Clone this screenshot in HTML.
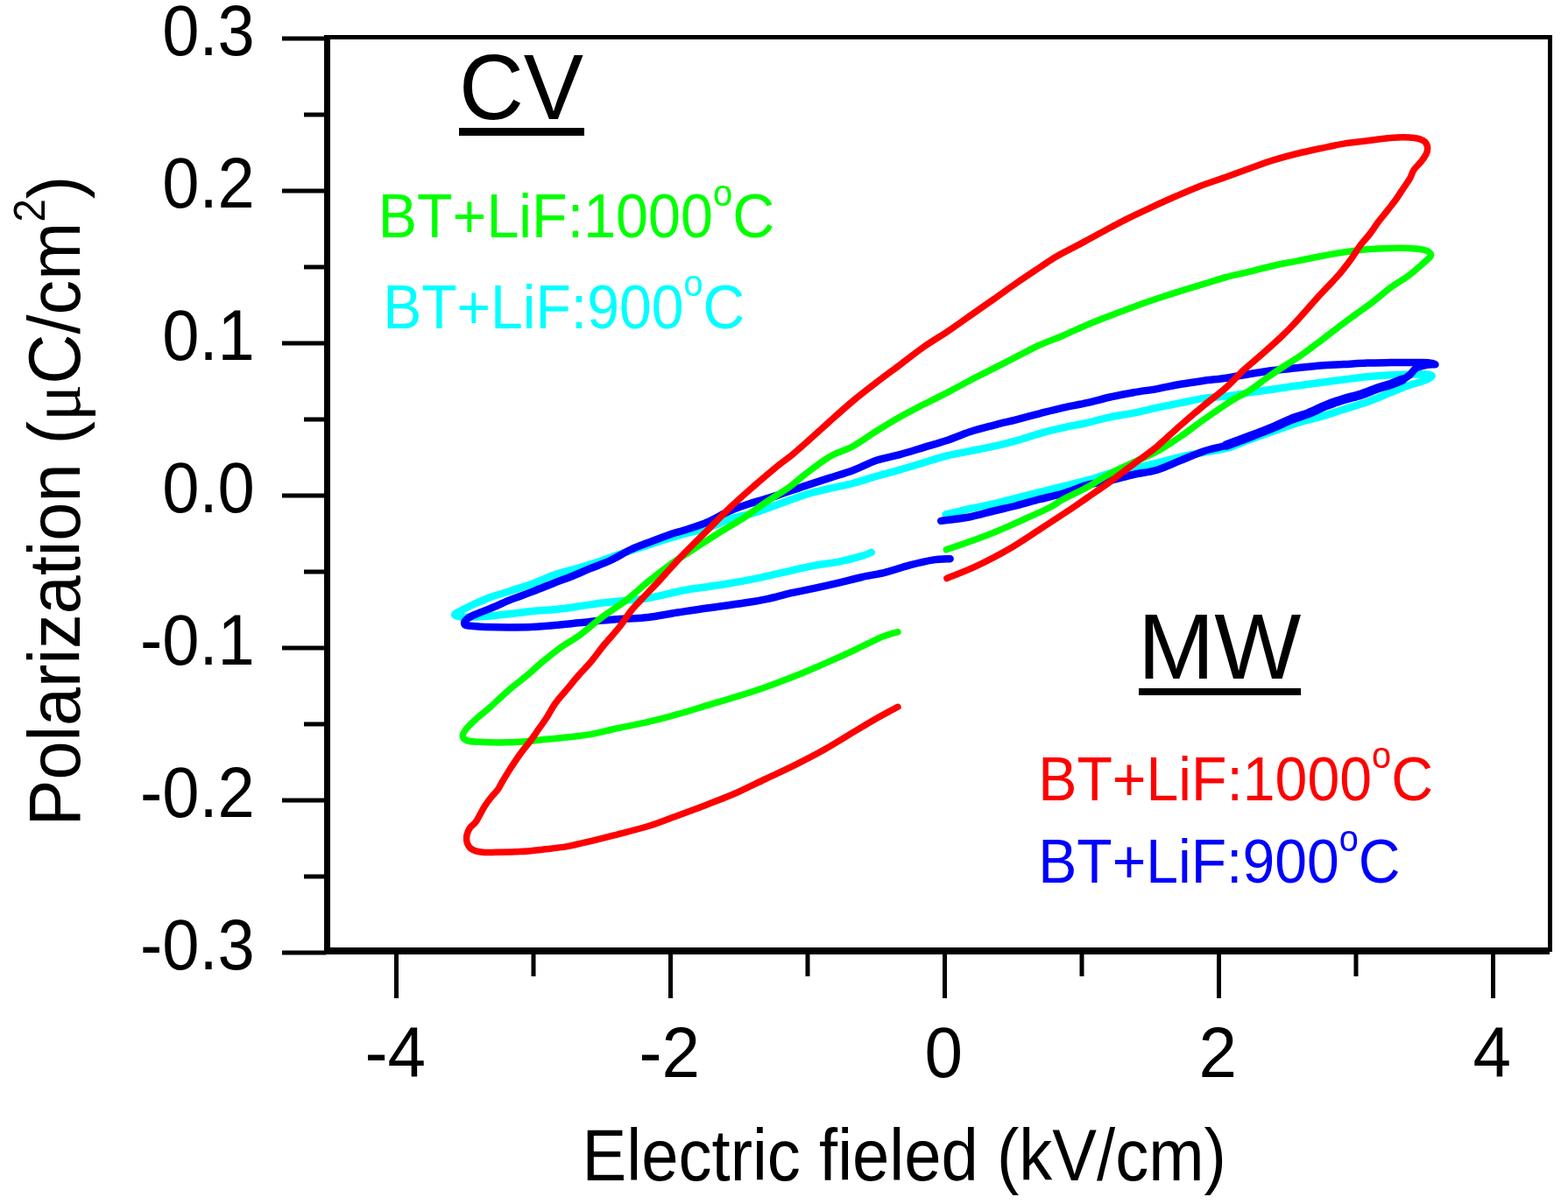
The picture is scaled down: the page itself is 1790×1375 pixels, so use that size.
<!DOCTYPE html>
<html><head><meta charset="utf-8"><title>P-E hysteresis</title>
<style>html,body{margin:0;padding:0;background:#fff;overflow:hidden;width:1790px;height:1375px;}svg{display:block;}text{font-family:"Liberation Sans", Arial, sans-serif;}</style></head><body>
<svg width="1790" height="1375" viewBox="0 0 1790 1375">
<rect x="0" y="0" width="1790" height="1375" fill="#fff"/>
<g fill="none" stroke-linejoin="round" stroke-linecap="round">
<path d="M1079.6,587.5 C1084.3,586.4 1098.5,582.8 1107.7,580.8 C1116.9,578.8 1125.8,577.4 1134.5,575.4 C1143.2,573.4 1151.3,571.0 1160.0,568.8 C1168.7,566.6 1177.9,564.3 1186.8,562.1 C1195.7,559.9 1204.6,557.6 1213.6,555.4 C1222.5,553.2 1231.5,551.2 1240.5,548.7 C1249.5,546.2 1258.4,542.9 1267.3,540.7 C1276.2,538.5 1285.2,537.3 1294.1,535.3 C1303.0,533.3 1312.0,530.8 1320.9,528.6 C1329.8,526.4 1338.8,523.9 1347.7,521.9 C1356.6,519.9 1365.8,518.1 1374.5,516.5 C1383.2,514.9 1391.3,514.4 1400.0,512.0 C1408.7,509.6 1417.9,505.1 1426.8,501.9 C1435.7,498.6 1444.6,495.6 1453.6,492.5 C1462.5,489.4 1471.5,485.9 1480.5,483.1 C1489.5,480.4 1498.4,478.6 1507.3,476.0 C1516.2,473.4 1525.2,470.3 1534.1,467.5 C1543.0,464.7 1552.0,462.2 1560.9,459.0 C1569.8,455.8 1579.9,451.4 1587.7,448.3 C1595.5,445.2 1601.5,442.4 1607.8,440.2 C1614.1,438.0 1620.8,436.7 1625.3,434.9 C1629.8,433.1 1634.1,430.7 1634.6,429.5 C1635.0,428.3 1631.3,427.8 1628.0,427.5 C1624.7,427.2 1621.2,427.4 1614.5,427.5 C1607.8,427.6 1596.6,427.8 1587.7,428.2 C1578.8,428.6 1569.8,429.3 1560.9,430.2 C1552.0,431.1 1543.0,432.4 1534.1,433.5 C1525.2,434.6 1516.2,435.8 1507.3,437.0 C1498.4,438.2 1489.5,439.2 1480.5,440.5 C1471.5,441.8 1462.5,443.2 1453.6,444.5 C1444.6,445.8 1435.7,447.1 1426.8,448.4 C1417.9,449.7 1408.7,451.4 1400.0,452.5 C1391.3,453.6 1383.2,453.6 1374.5,454.9 C1365.8,456.2 1356.6,458.4 1347.7,460.2 C1338.8,462.0 1329.8,463.7 1320.9,465.6 C1312.0,467.5 1303.0,469.8 1294.1,471.6 C1285.2,473.4 1276.2,474.4 1267.3,476.3 C1258.4,478.2 1249.5,481.0 1240.5,483.0 C1231.5,485.0 1222.5,486.4 1213.6,488.4 C1204.6,490.4 1195.7,492.6 1186.8,495.1 C1177.9,497.6 1168.7,501.0 1160.0,503.4 C1151.3,505.8 1143.2,507.8 1134.5,509.7 C1125.8,511.6 1116.6,513.3 1107.7,515.1 C1098.8,516.9 1089.8,518.3 1080.9,520.5 C1072.0,522.7 1063.0,525.8 1054.1,528.5 C1045.2,531.2 1036.2,533.9 1027.3,536.5 C1018.4,539.1 1009.5,541.3 1000.5,543.9 C991.5,546.5 982.6,549.6 973.6,552.0 C964.6,554.4 955.7,555.9 946.8,558.0 C937.9,560.1 929.9,561.7 920.0,564.7 C910.1,567.8 897.6,572.8 887.7,576.3 C877.9,579.8 869.8,583.0 860.9,585.7 C852.0,588.4 843.0,589.5 834.1,592.4 C825.2,595.3 816.2,600.2 807.3,603.1 C798.4,606.0 789.5,607.3 780.5,609.8 C771.5,612.3 760.4,615.8 753.6,617.9 C746.9,620.0 746.5,620.4 740.0,622.5 C733.5,624.6 723.2,627.6 714.5,630.5 C705.8,633.4 696.6,637.0 687.7,640.0 C678.8,643.0 669.8,645.8 660.9,648.5 C652.0,651.2 642.9,653.0 634.1,656.0 C625.3,659.0 616.4,663.4 608.0,666.5 C599.6,669.6 592.0,671.9 584.0,674.5 C576.0,677.1 567.3,679.3 560.0,682.0 C552.7,684.7 545.7,687.9 540.0,690.5 C534.3,693.1 529.5,695.6 526.0,697.5 C522.5,699.4 518.9,700.8 519.0,702.0 C519.1,703.2 521.0,704.2 526.8,704.5 C532.6,704.8 544.6,704.5 553.6,704.0 C562.6,703.5 571.5,702.2 580.5,701.2 C589.5,700.2 598.4,698.8 607.3,697.9 C616.2,697.0 625.2,696.8 634.1,695.9 C643.0,695.0 652.0,693.7 660.9,692.5 C669.8,691.3 678.8,689.6 687.7,688.5 C696.6,687.4 705.8,686.7 714.5,685.8 C723.2,684.9 729.0,684.9 740.0,683.0 C751.0,681.1 769.3,676.3 780.5,674.2 C791.7,672.1 798.4,671.6 807.3,670.2 C816.2,668.8 825.2,667.5 834.1,666.0 C843.0,664.5 853.8,662.6 860.9,661.2 C868.0,659.8 869.7,659.3 876.8,657.7 C883.9,656.1 894.6,653.6 903.6,651.6 C912.6,649.6 921.5,647.3 930.5,645.6 C939.5,643.9 948.4,643.4 957.3,641.6 C966.2,639.8 977.9,636.7 984.1,634.9 C990.4,633.1 993.0,631.5 994.8,630.8" stroke="#00ffff" stroke-width="8.5"/>
<path d="M1074.2,594.9 C1079.8,594.1 1097.7,592.1 1107.7,590.2 C1117.8,588.3 1125.8,585.6 1134.5,583.5 C1143.2,581.4 1151.3,579.7 1160.0,577.5 C1168.7,575.3 1177.9,572.5 1186.8,570.2 C1195.7,567.9 1204.6,566.2 1213.6,563.5 C1222.5,560.8 1231.5,556.6 1240.5,554.1 C1249.5,551.6 1258.4,550.7 1267.3,548.7 C1276.2,546.7 1285.2,544.0 1294.1,542.0 C1303.0,540.0 1312.0,539.4 1320.9,536.7 C1329.8,534.0 1338.8,529.5 1347.7,525.9 C1356.6,522.3 1365.8,518.1 1374.5,515.2 C1383.2,512.3 1391.3,511.3 1400.0,508.5 C1408.7,505.7 1417.9,501.9 1426.8,498.5 C1435.7,495.1 1445.8,491.2 1453.6,488.0 C1461.4,484.8 1467.0,481.7 1473.7,479.0 C1480.4,476.3 1487.2,474.7 1493.9,472.0 C1500.6,469.3 1507.3,465.7 1514.0,463.0 C1520.7,460.3 1527.4,458.1 1534.1,456.0 C1540.8,453.9 1547.5,452.7 1554.2,450.5 C1560.9,448.3 1568.7,444.8 1574.3,442.9 C1579.9,441.0 1583.2,440.5 1587.7,438.9 C1592.2,437.3 1597.5,435.3 1601.1,433.5 C1604.7,431.7 1606.5,430.4 1609.2,428.2 C1611.9,426.0 1613.7,422.1 1617.2,420.1 C1620.7,418.2 1626.5,417.2 1630.0,416.5 C1633.5,415.8 1638.5,416.4 1638.5,416.0 C1638.5,415.6 1634.0,414.5 1630.0,414.2 C1626.0,413.9 1621.5,414.1 1614.5,414.1 C1607.5,414.1 1596.6,414.0 1587.7,414.1 C1578.8,414.2 1569.8,414.2 1560.9,414.5 C1552.0,414.8 1543.0,415.6 1534.1,416.1 C1525.2,416.6 1516.2,416.9 1507.3,417.6 C1498.3,418.3 1489.4,419.4 1480.4,420.3 C1471.5,421.2 1462.5,421.9 1453.6,423.0 C1444.7,424.1 1435.7,425.6 1426.8,427.0 C1417.9,428.4 1408.7,430.4 1400.0,431.7 C1391.3,433.0 1383.2,433.5 1374.5,434.7 C1365.8,435.9 1356.6,437.2 1347.7,438.8 C1338.8,440.4 1329.8,442.5 1320.9,444.1 C1312.0,445.7 1303.0,446.6 1294.1,448.2 C1285.2,449.8 1276.2,451.5 1267.3,453.5 C1258.4,455.5 1249.5,458.2 1240.5,460.2 C1231.5,462.2 1222.5,463.6 1213.6,465.6 C1204.6,467.6 1195.7,470.0 1186.8,472.3 C1177.9,474.6 1168.7,477.1 1160.0,479.3 C1151.3,481.5 1143.2,483.3 1134.5,485.6 C1125.8,487.9 1116.6,490.1 1107.7,493.0 C1098.8,495.9 1089.8,500.0 1080.9,503.0 C1072.0,506.0 1063.0,508.4 1054.1,511.1 C1045.2,513.8 1036.2,516.7 1027.3,519.1 C1018.4,521.5 1009.5,522.8 1000.5,525.8 C991.5,528.8 982.6,533.9 973.6,537.2 C964.6,540.6 955.7,543.0 946.8,545.9 C937.9,548.8 929.9,551.3 920.0,554.6 C910.1,557.9 897.6,562.4 887.7,565.6 C877.9,568.8 869.8,570.7 860.9,573.6 C852.0,576.5 843.0,579.2 834.1,583.0 C825.2,586.8 816.2,592.6 807.3,596.4 C798.4,600.2 787.2,603.6 780.5,605.8 C773.8,608.0 773.4,607.5 767.3,609.6 C761.2,611.7 751.7,615.2 743.9,618.2 C736.1,621.2 728.2,623.9 720.4,627.5 C712.6,631.1 704.7,636.4 696.9,640.0 C689.1,643.6 681.0,646.3 673.5,649.4 C666.0,652.5 658.9,655.7 652.0,658.5 C645.1,661.3 639.3,663.1 632.0,666.0 C624.7,668.9 616.0,672.5 608.0,675.6 C600.0,678.7 591.3,681.5 584.0,684.4 C576.7,687.3 570.7,690.4 564.0,693.2 C557.3,696.0 548.8,699.2 544.0,701.2 C539.2,703.2 537.2,704.0 535.0,705.5 C532.8,707.0 531.1,708.6 530.5,710.0 C529.9,711.4 529.9,713.2 531.5,714.0 C533.1,714.8 536.3,714.7 540.0,715.0 C543.7,715.3 546.9,715.8 553.6,716.0 C560.4,716.2 571.5,716.4 580.5,716.4 C589.5,716.4 598.4,716.4 607.3,716.0 C616.2,715.6 625.2,714.8 634.1,714.0 C643.0,713.2 652.0,712.2 660.9,711.3 C669.8,710.4 678.8,709.4 687.7,708.6 C696.6,707.8 705.8,707.2 714.5,706.6 C723.2,706.0 730.2,706.2 740.0,705.0 C749.8,703.8 762.3,701.2 773.5,699.5 C784.7,697.8 794.2,696.3 807.0,694.5 C819.8,692.7 838.4,690.3 850.0,688.5 C861.6,686.7 867.9,685.7 876.8,683.8 C885.7,681.9 894.6,679.1 903.6,677.1 C912.6,675.1 921.5,673.6 930.5,671.7 C939.5,669.8 948.4,667.8 957.3,665.7 C966.2,663.6 975.2,661.0 984.1,659.0 C993.0,657.0 1002.0,655.8 1010.9,653.6 C1019.8,651.4 1028.8,647.9 1037.7,645.6 C1046.6,643.3 1056.7,640.8 1064.5,639.6 C1072.3,638.4 1081.2,638.4 1084.6,638.2" stroke="#0000ff" stroke-width="8.5"/>
<path d="M1400.0,508.5 C1404.5,506.8 1417.9,501.9 1426.8,498.5 C1435.7,495.1 1445.8,491.2 1453.6,488.0 C1461.4,484.8 1467.0,481.7 1473.7,479.0 C1480.4,476.3 1487.2,474.7 1493.9,472.0 C1500.6,469.3 1507.3,465.7 1514.0,463.0 C1520.7,460.3 1527.4,458.1 1534.1,456.0 C1540.8,453.9 1547.5,452.7 1554.2,450.5 C1560.9,448.3 1568.7,444.8 1574.3,442.9 C1579.9,441.0 1583.2,440.5 1587.7,438.9 C1592.2,437.3 1598.9,434.4 1601.1,433.5" stroke="#0000ff" stroke-width="10.5"/>
<path d="M1080.2,627.8 C1088.3,624.9 1113.4,616.4 1128.8,610.4 C1144.2,604.4 1161.0,596.6 1172.4,591.5 C1183.9,586.4 1190.6,583.5 1197.5,580.0 C1204.4,576.5 1206.4,574.1 1213.6,570.2 C1220.8,566.3 1231.5,561.7 1240.5,556.8 C1249.5,551.9 1258.4,545.5 1267.3,540.7 C1276.2,535.9 1285.2,532.2 1294.1,528.0 C1303.0,523.8 1312.0,520.4 1320.9,515.5 C1329.8,510.6 1338.8,504.6 1347.7,498.5 C1356.6,492.4 1364.7,485.9 1374.5,479.0 C1384.3,472.1 1398.0,462.6 1406.7,457.1 C1415.4,451.6 1420.1,450.2 1426.8,445.8 C1433.5,441.4 1440.2,435.7 1446.9,431.0 C1453.6,426.3 1460.3,421.9 1467.0,417.5 C1473.7,413.1 1480.4,409.2 1487.1,404.5 C1493.8,399.8 1500.6,394.5 1507.3,389.4 C1514.0,384.3 1520.7,378.9 1527.4,373.9 C1534.1,368.8 1540.8,364.0 1547.5,359.1 C1554.2,354.2 1560.9,349.5 1567.6,344.4 C1574.3,339.3 1581.0,333.2 1587.7,328.3 C1594.4,323.4 1601.5,319.6 1607.8,314.9 C1614.1,310.2 1621.0,303.9 1625.3,300.1 C1629.5,296.3 1632.5,294.3 1633.3,292.1 C1634.1,289.9 1632.0,288.3 1630.0,287.0 C1628.0,285.7 1624.7,285.1 1621.0,284.5 C1617.3,283.9 1613.3,283.6 1607.8,283.4 C1602.2,283.2 1595.5,283.2 1587.7,283.4 C1579.9,283.6 1569.8,283.9 1560.9,284.7 C1552.0,285.5 1543.0,286.7 1534.1,288.0 C1525.2,289.3 1516.2,291.0 1507.3,292.7 C1498.4,294.4 1489.5,296.3 1480.5,298.1 C1471.5,299.9 1462.5,301.5 1453.6,303.5 C1444.6,305.5 1435.7,308.0 1426.8,310.2 C1417.9,312.4 1408.7,314.2 1400.0,316.5 C1391.3,318.8 1383.2,321.6 1374.5,324.2 C1365.8,326.8 1356.6,329.5 1347.7,332.3 C1338.8,335.1 1329.8,338.0 1320.9,341.0 C1312.0,344.0 1303.0,347.1 1294.1,350.4 C1285.2,353.6 1276.2,357.0 1267.3,360.5 C1258.4,364.0 1249.5,367.4 1240.5,371.2 C1231.5,375.0 1222.5,379.4 1213.6,383.2 C1204.6,387.0 1195.7,389.9 1186.8,394.0 C1177.9,398.1 1168.7,403.2 1160.0,407.6 C1151.3,412.1 1143.2,416.3 1134.5,420.7 C1125.8,425.1 1116.6,429.5 1107.7,434.2 C1098.8,438.9 1089.8,444.0 1080.9,448.6 C1072.0,453.2 1063.0,457.4 1054.1,462.0 C1045.2,466.6 1036.2,471.1 1027.3,476.2 C1018.4,481.2 1009.5,486.7 1000.5,492.3 C991.5,497.9 982.6,504.8 973.6,509.7 C964.6,514.6 955.7,516.6 946.8,521.8 C937.9,527.0 927.6,535.3 920.0,541.0 C912.4,546.7 908.7,550.8 901.1,556.2 C893.5,561.6 883.2,567.6 874.3,573.6 C865.4,579.6 856.4,586.6 847.5,592.4 C838.6,598.2 829.6,602.9 820.7,608.5 C811.8,614.1 802.9,620.1 793.9,625.9 C784.9,631.7 776.0,637.0 767.0,643.4 C758.0,649.8 749.0,656.9 740.2,664.0 C731.5,671.1 723.2,679.0 714.5,685.8 C705.8,692.6 696.6,697.9 687.7,704.6 C678.8,711.3 668.5,720.4 660.9,726.0 C653.3,731.6 648.8,733.2 642.1,738.0 C635.4,742.8 627.6,749.0 620.7,754.7 C613.8,760.4 607.3,766.6 600.6,772.2 C593.9,777.8 587.2,782.5 580.5,788.3 C573.8,794.1 566.3,801.6 560.3,807.0 C554.2,812.4 548.9,816.2 544.2,820.5 C539.5,824.8 534.9,829.1 532.2,832.5 C529.5,835.9 528.0,838.4 528.2,840.6 C528.4,842.8 530.4,844.8 533.5,845.9 C536.6,847.0 541.3,847.0 546.9,847.3 C552.5,847.6 559.2,847.9 567.0,847.9 C574.8,847.9 584.9,847.8 593.9,847.3 C602.9,846.8 611.8,845.5 620.7,844.6 C629.6,843.7 638.6,842.9 647.5,841.9 C656.4,840.9 665.4,840.2 674.3,838.6 C683.2,837.0 690.1,834.9 701.1,832.5 C712.1,830.1 727.9,827.1 740.0,824.3 C752.1,821.5 762.3,818.8 773.5,815.7 C784.7,812.6 795.8,809.0 807.0,805.6 C818.2,802.2 829.4,799.1 840.6,795.6 C851.8,792.1 862.9,788.6 874.1,784.7 C885.3,780.8 896.4,776.6 907.6,772.1 C918.8,767.6 929.9,762.8 941.1,757.9 C952.3,753.0 963.4,748.0 974.6,742.8 C985.8,737.6 999.7,730.4 1008.1,726.9 C1016.5,723.4 1022.1,722.6 1024.9,721.8" stroke="#00ff00" stroke-width="7.5"/>
<path d="M1080.9,660.5 C1086.5,658.2 1102.7,652.2 1114.3,646.7 C1125.9,641.2 1138.5,634.8 1150.6,627.8 C1162.7,620.8 1174.6,612.6 1186.9,604.6 C1199.2,596.6 1215.5,586.0 1224.4,580.0 C1233.3,574.0 1233.3,573.8 1240.5,568.8 C1247.7,563.8 1258.4,556.6 1267.3,550.1 C1276.2,543.6 1285.2,536.7 1294.1,530.0 C1303.0,523.3 1312.0,517.2 1320.9,509.8 C1329.8,502.4 1338.8,493.5 1347.7,485.7 C1356.6,477.9 1365.8,470.1 1374.5,462.9 C1383.2,455.7 1392.4,449.2 1400.0,442.4 C1407.6,435.6 1413.4,428.6 1420.1,422.3 C1426.8,416.1 1433.5,410.8 1440.2,404.9 C1446.9,399.0 1454.2,392.6 1460.3,386.8 C1466.4,381.0 1469.3,378.4 1477.1,370.0 C1484.9,361.6 1498.9,345.5 1507.3,336.3 C1515.7,327.1 1521.8,321.3 1527.4,314.9 C1533.0,308.5 1537.7,302.1 1540.8,298.0 C1543.9,293.9 1544.2,293.2 1546.2,290.2 C1548.2,287.2 1550.1,283.8 1553.0,280.0 C1555.9,276.2 1560.3,271.7 1563.6,267.4 C1566.9,263.1 1569.7,258.5 1573.0,254.0 C1576.3,249.5 1580.4,244.8 1583.7,240.6 C1587.0,236.3 1590.2,232.5 1593.1,228.5 C1596.0,224.5 1598.4,220.4 1601.1,216.4 C1603.8,212.4 1607.0,208.1 1609.2,204.4 C1611.4,200.7 1611.8,197.4 1614.0,194.0 C1616.2,190.6 1620.2,187.4 1622.6,184.2 C1625.0,181.0 1627.5,177.8 1628.6,174.9 C1629.7,172.0 1629.8,169.2 1629.3,166.8 C1628.8,164.5 1627.8,162.4 1625.3,160.8 C1622.8,159.2 1620.8,158.0 1614.5,157.4 C1608.2,156.8 1596.6,156.8 1587.7,157.4 C1578.8,158.0 1569.8,159.7 1560.9,160.8 C1552.0,161.9 1543.0,162.7 1534.1,164.1 C1525.2,165.5 1516.2,167.6 1507.3,169.5 C1498.4,171.4 1489.5,173.3 1480.5,175.5 C1471.5,177.7 1462.5,180.1 1453.6,182.9 C1444.6,185.7 1435.7,189.1 1426.8,192.3 C1417.9,195.5 1409.8,198.5 1400.0,202.0 C1390.2,205.5 1377.5,209.6 1367.7,213.4 C1357.9,217.2 1349.8,220.9 1340.9,224.8 C1332.0,228.7 1323.0,232.8 1314.1,236.9 C1305.2,241.0 1296.2,245.1 1287.3,249.6 C1278.4,254.1 1269.5,258.9 1260.5,263.7 C1251.5,268.5 1242.5,273.6 1233.6,278.4 C1224.6,283.2 1214.6,288.0 1206.8,292.5 C1199.0,297.0 1194.6,300.3 1186.8,305.5 C1179.0,310.7 1168.7,317.5 1160.0,323.5 C1151.3,329.5 1143.2,335.5 1134.5,341.6 C1125.8,347.7 1116.6,354.1 1107.7,360.3 C1098.8,366.6 1089.8,373.1 1080.9,379.1 C1072.0,385.1 1063.0,390.2 1054.1,396.5 C1045.2,402.8 1036.2,410.0 1027.3,416.7 C1018.4,423.4 1009.5,429.9 1000.5,436.8 C991.5,443.7 982.6,450.5 973.6,458.0 C964.6,465.5 955.7,473.6 946.8,481.6 C937.9,489.6 927.2,499.4 920.0,505.8 C912.8,512.2 909.2,515.4 903.8,519.8 C898.4,524.2 894.9,526.2 887.7,532.1 C880.6,538.0 869.8,547.1 860.9,554.9 C852.0,562.7 843.0,570.5 834.1,579.0 C825.2,587.5 816.2,596.9 807.3,605.8 C798.4,614.7 789.5,623.2 780.5,632.6 C771.5,642.0 760.6,654.5 753.6,662.1 C746.6,669.7 743.9,672.3 738.5,678.0 C733.1,683.7 726.3,690.3 721.2,696.5 C716.1,702.7 713.0,708.7 707.8,715.3 C702.6,721.9 695.6,729.2 690.0,736.0 C684.4,742.8 679.1,750.3 674.3,756.1 C669.4,761.9 665.4,765.7 660.9,770.8 C656.4,775.9 652.0,781.5 647.5,786.9 C643.0,792.3 638.1,797.4 634.1,803.0 C630.1,808.6 626.8,815.4 623.4,820.5 C620.0,825.6 617.1,829.4 614.0,833.9 C610.9,838.4 608.0,842.8 604.6,847.3 C601.2,851.8 597.5,856.0 593.9,861.0 C590.3,866.0 586.5,871.8 583.1,877.0 C579.7,882.2 576.2,888.1 573.7,892.2 C571.2,896.3 570.6,898.5 568.4,901.6 C566.2,904.7 562.8,907.9 560.3,911.0 C557.8,914.1 555.6,917.2 553.6,920.3 C551.6,923.4 550.1,926.6 548.3,929.7 C546.5,932.8 544.9,936.4 542.9,939.1 C540.9,941.8 537.9,943.3 536.2,945.8 C534.5,948.3 533.4,951.0 532.9,953.9 C532.4,956.8 532.5,960.5 533.5,963.2 C534.5,965.9 536.0,968.3 538.9,970.0 C541.8,971.7 546.3,972.8 551.0,973.3 C555.7,973.8 559.9,973.4 567.0,973.3 C574.1,973.2 584.9,973.1 593.9,972.6 C602.9,972.1 611.8,971.0 620.7,970.0 C629.6,969.0 638.6,968.2 647.5,966.6 C656.4,965.0 665.4,962.7 674.3,960.6 C683.2,958.5 690.1,956.8 701.1,953.9 C712.1,951.0 727.9,947.2 740.0,943.5 C752.1,939.8 762.3,935.5 773.5,931.4 C784.7,927.3 795.8,923.2 807.0,918.9 C818.2,914.6 829.4,910.4 840.6,905.5 C851.8,900.6 862.9,894.8 874.1,889.5 C885.3,884.2 896.4,879.2 907.6,873.6 C918.8,868.0 929.9,862.3 941.1,856.0 C952.3,849.7 964.6,841.9 974.6,835.9 C984.6,829.9 993.0,824.8 1001.4,820.0 C1009.8,815.2 1021.0,809.4 1024.9,807.3" stroke="#ff0000" stroke-width="7.5"/>
</g>
<g fill="#000">
<rect x="371" y="40" width="1401" height="5"/>
<rect x="1767" y="40" width="5" height="1047"/>
<rect x="370" y="40" width="7" height="1050"/>
<rect x="370" y="1082" width="1399" height="8"/>
<rect x="322" y="1085.5" width="50" height="5"/>
<rect x="347" y="998.5" width="25" height="5"/>
<rect x="322" y="911.5" width="50" height="5"/>
<rect x="347" y="824.5" width="25" height="5"/>
<rect x="322" y="737.5" width="50" height="5"/>
<rect x="347" y="650.5" width="25" height="5"/>
<rect x="322" y="563.5" width="50" height="5"/>
<rect x="347" y="476.5" width="25" height="5"/>
<rect x="322" y="389.5" width="50" height="5"/>
<rect x="347" y="302.5" width="25" height="5"/>
<rect x="322" y="215.5" width="50" height="5"/>
<rect x="347" y="128.5" width="25" height="5"/>
<rect x="322" y="41.5" width="50" height="5"/>
<rect x="450.0" y="1088" width="5" height="52"/>
<rect x="606.5" y="1088" width="5" height="27"/>
<rect x="763.0" y="1088" width="5" height="52"/>
<rect x="919.5" y="1088" width="5" height="27"/>
<rect x="1076.0" y="1088" width="5" height="52"/>
<rect x="1232.5" y="1088" width="5" height="27"/>
<rect x="1389.0" y="1088" width="5" height="52"/>
<rect x="1545.5" y="1088" width="5" height="27"/>
<rect x="1702.0" y="1088" width="5" height="52"/>
</g>
<g font-size="82" fill="#000" text-anchor="end">
<text transform="translate(290.77,1107.00) scale(0.9259,1)">-0.3</text>
<text transform="translate(290.77,933.00) scale(0.9259,1)">-0.2</text>
<text transform="translate(290.77,759.00) scale(0.9259,1)">-0.1</text>
<text transform="translate(290.77,585.00) scale(0.9259,1)">0.0</text>
<text transform="translate(290.77,411.00) scale(0.9259,1)">0.1</text>
<text transform="translate(290.77,237.00) scale(0.9259,1)">0.2</text>
<text transform="translate(290.77,63.00) scale(0.9259,1)">0.3</text>
</g>
<g font-size="82" fill="#000" text-anchor="middle">
<text transform="translate(451.30,1229.8) scale(0.9545,1)">-4</text>
<text transform="translate(764.30,1229.8) scale(0.9545,1)">-2</text>
<text transform="translate(1077.30,1229.8) scale(0.9545,1)">0</text>
<text transform="translate(1390.30,1229.8) scale(0.9545,1)">2</text>
<text transform="translate(1703.30,1229.8) scale(0.9545,1)">4</text>
</g>
<text transform="translate(664.56,1347.80) scale(0.9199,1)" font-size="82.7" fill="#000">Electric fieled (kV/cm)</text>
<text transform="translate(91.00,943.41) rotate(-90) scale(0.9579,1)" font-size="82.7" fill="#000">Polarization (<tspan font-family="'Liberation Serif', 'DejaVu Serif', serif">μ</tspan>C/cm<tspan font-size="50" dy="-40">2</tspan><tspan dy="40">)</tspan></text>
<text transform="translate(523.97,136.00) scale(0.9655,1)" font-size="106" fill="#000">CV</text>
<text transform="translate(1298.89,774.70) scale(0.9899,1)" font-size="106" fill="#000">MW</text>
<text transform="translate(431.70,271.00) scale(0.9493,1)" font-size="70" fill="#00ff00">BT+LiF:1000<tspan font-size="42" dy="-36.5">o</tspan><tspan dy="36.5">C</tspan></text>
<text transform="translate(437.14,374.80) scale(0.9438,1)" font-size="70" fill="#00ffff">BT+LiF:900<tspan font-size="42" dy="-36.5">o</tspan><tspan dy="36.5">C</tspan></text>
<text transform="translate(1185.23,913.80) scale(0.9458,1)" font-size="70" fill="#ff0000">BT+LiF:1000<tspan font-size="42" dy="-36.5">o</tspan><tspan dy="36.5">C</tspan></text>
<text transform="translate(1185.24,1008.20) scale(0.9441,1)" font-size="70" fill="#0000ff">BT+LiF:900<tspan font-size="42" dy="-36.5">o</tspan><tspan dy="36.5">C</tspan></text>
<rect x="524" y="146" width="143" height="9" fill="#000"/>
<rect x="1300" y="786" width="185" height="8" fill="#000"/>
</svg></body></html>
